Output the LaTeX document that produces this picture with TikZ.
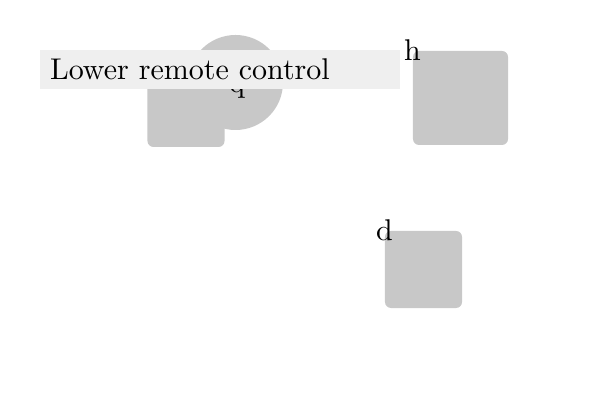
\documentclass[tikz,border=0pt]{standalone}
\usetikzlibrary{positioning}
\definecolor{cblock}{HTML}{C8C8C8}
\definecolor{cbanner}{HTML}{EFEFEF}
\tikzset{
  every picture/.style={x=0.33333pt, y=-0.33333pt},
  block/.style={fill=cblock, rounded corners=2pt, inner sep=0pt},
  blob/.style={circle, fill=cblock, inner sep=0pt, minimum size=31.67pt},
  tag/.style={inner sep=0pt, text=black},
  banner/.style={fill=cbanner, inner xsep=3.33pt, inner ysep=0pt, minimum height=13pt,
    text width=113.33pt, align=left, text=black},
}
\begin{document}
\begin{tikzpicture}
  \useasboundingbox (0,0) rectangle (600,400);
  % left group
  \node[block, minimum width=25.67pt, minimum height=25.67pt] (qbox) at (186,108.5) {};
  \node[blob] (qcirc) at (235.5,82.5) {};
  \node[tag] (qlabel) at (237,89) {q};
  \node[banner] (caption) at (220,69.7) {Lower remote control};
  % right group
  \node[block, minimum width=31.67pt, minimum height=31.33pt] (h) at (460.5,98) {};
  \node[tag] (hlabel) at (h.north west) {h};
  \node[block, minimum width=25.67pt, minimum height=25.67pt] (d) at (423.5,269.5) {};
  \node[tag] (dlabel) at (d.north west) {d};
\end{tikzpicture}
\end{document}
